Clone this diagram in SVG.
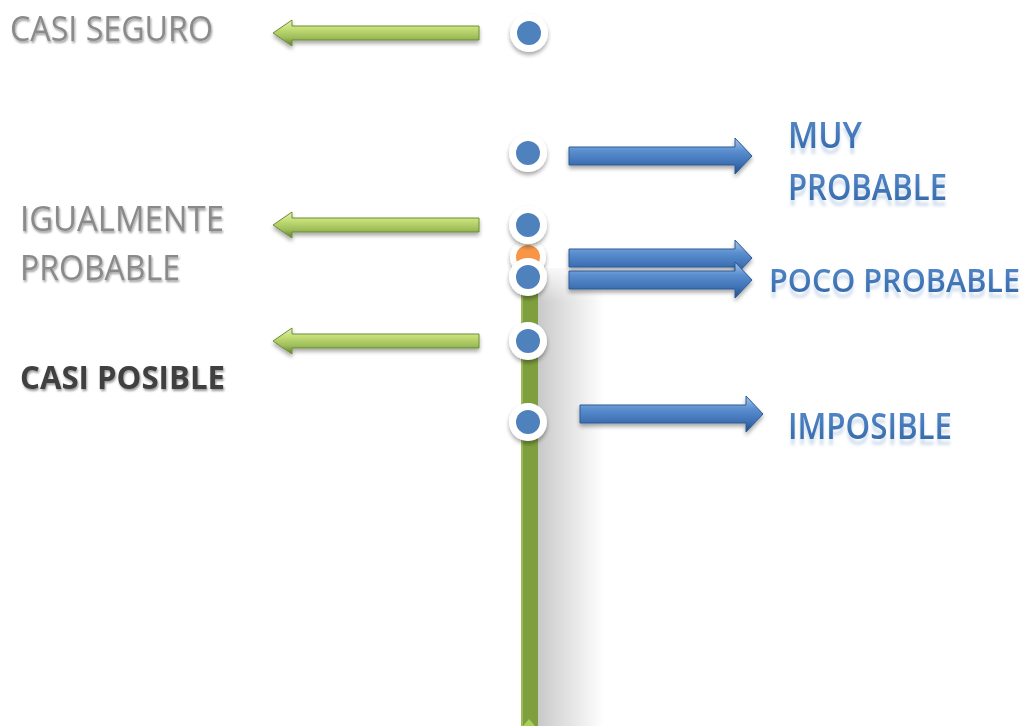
<svg xmlns="http://www.w3.org/2000/svg" width="1030" height="726" viewBox="0 0 1030 726">
<defs>
<linearGradient id="gArrow" x1="0" y1="0" x2="0" y2="1">
<stop offset="0" stop-color="#e2f0b6"/><stop offset="0.35" stop-color="#c2dc73"/><stop offset="0.7" stop-color="#9bbb59"/><stop offset="1" stop-color="#5f7a2c"/>
</linearGradient>
<linearGradient id="bArrow" x1="0" y1="0" x2="0" y2="1">
<stop offset="0" stop-color="#a9c6ea"/><stop offset="0.35" stop-color="#5b8fd0"/><stop offset="0.7" stop-color="#3f72b5"/><stop offset="1" stop-color="#234f86"/>
</linearGradient>
<linearGradient id="barShadow" x1="0" y1="0" x2="1" y2="0">
<stop offset="0" stop-color="#c8c8c8"/><stop offset="0.3" stop-color="#dadada"/><stop offset="1" stop-color="#ffffff"/>
</linearGradient>
<linearGradient id="topFade" x1="0" y1="0" x2="0" y2="1">
<stop offset="0" stop-color="#ffffff" stop-opacity="1"/><stop offset="1" stop-color="#ffffff" stop-opacity="0"/>
</linearGradient>
<linearGradient id="blueText" x1="0" y1="0" x2="0" y2="1">
<stop offset="0" stop-color="#5b8fd0"/><stop offset="1" stop-color="#2f63a3"/>
</linearGradient>
<filter id="ds" x="-50%" y="-50%" width="200%" height="200%">
<feGaussianBlur in="SourceAlpha" stdDeviation="2"/><feOffset dx="0" dy="3"/>
<feComponentTransfer><feFuncA type="linear" slope="0.35"/></feComponentTransfer>
<feMerge><feMergeNode/><feMergeNode in="SourceGraphic"/></feMerge>
</filter>
<filter id="ts" x="-10%" y="-30%" width="120%" height="160%">
<feGaussianBlur in="SourceAlpha" stdDeviation="1.2"/><feOffset dx="1" dy="2"/>
<feComponentTransfer><feFuncA type="linear" slope="0.4"/></feComponentTransfer>
<feMerge><feMergeNode/><feMergeNode in="SourceGraphic"/></feMerge>
</filter>
<filter id="refl" x="-2%" y="-20%" width="104%" height="200%">
<feFlood flood-color="#4f81bd" flood-opacity="0.25"/>
<feComposite in2="SourceAlpha" operator="in" result="c"/>
<feOffset in="c" dx="0" dy="6" result="o"/>
<feGaussianBlur in="o" stdDeviation="1.5"/>
<feMerge><feMergeNode/><feMergeNode in="SourceGraphic"/></feMerge>
</filter>
<g id="dot"><circle r="19" fill="#ffffff"/><circle r="12" fill="#4f81bd"/></g>
<path id="larrow" d="M0,0 L19,-13 L19,-7 L206,-7 L206,7 L19,7 L19,13 Z"/>
<path id="rarrow" d="M0,-9 L166,-9 L166,-18 L183,0 L166,18 L166,9 L0,9 Z"/>
</defs>
<style>
.gray{font-family:"Open Sans","Liberation Sans",sans-serif;font-size:34px;fill:#8a8a8a}
.dark{font-family:"Open Sans","Liberation Sans",sans-serif;font-size:33px;font-weight:bold;fill:#404040}
.blue{font-family:"Open Sans","Liberation Sans",sans-serif;font-size:36px;font-weight:600;fill:url(#blueText)}
.ga{fill:url(#gArrow);stroke:#6f8f35;stroke-width:1}
.ba{fill:url(#bArrow);stroke:#2c5a94;stroke-width:1}
</style>
<rect width="1030" height="726" fill="#ffffff"/>

<g id="timeline">
<rect x="538" y="268" width="66" height="458" fill="url(#barShadow)"/>
<rect x="536" y="262" width="70" height="40" fill="url(#topFade)"/>
<rect x="521" y="285" width="17" height="441" fill="#7f9f3f"/>
<rect x="521" y="285" width="2" height="441" fill="#9bbb59"/>
<path d="M523,726 L529,719 L535,726 Z" fill="#a9cf5a"/>
</g>

<g id="connectors">
<use href="#larrow" x="273" y="33" class="ga" filter="url(#ds)"/>
<use href="#larrow" x="273" y="225" class="ga" filter="url(#ds)"/>
<use href="#larrow" x="273" y="341" class="ga" filter="url(#ds)"/>
<use href="#rarrow" x="569" y="156" class="ba" filter="url(#ds)"/>
<use href="#rarrow" x="569" y="258" class="ba" filter="url(#ds)"/>
<use href="#rarrow" x="569" y="280" class="ba" filter="url(#ds)"/>
<use href="#rarrow" x="580" y="414" class="ba" filter="url(#ds)"/>
</g>

<g id="node-casi-seguro-dot" filter="url(#ds)"><use href="#dot" x="529" y="33"/></g>
<g id="node-muy-dot" filter="url(#ds)"><use href="#dot" x="528" y="153"/></g>
<g id="node-orange-dot" filter="url(#ds)"><circle cx="528" cy="257" r="18" fill="#ffffff"/><circle cx="528" cy="257" r="12" fill="#f79646"/></g>
<g id="node-igual-dot" filter="url(#ds)"><use href="#dot" x="528" y="225"/></g>
<g id="node-poco-dot" filter="url(#ds)"><use href="#dot" x="528" y="277"/></g>
<g id="node-casi-posible-dot" filter="url(#ds)"><use href="#dot" x="528" y="341"/></g>
<g id="node-imposible-dot" filter="url(#ds)"><use href="#dot" x="528" y="422"/></g>

<g id="node-casi-seguro"><text class="gray" x="10" y="41" textLength="203" lengthAdjust="spacingAndGlyphs" filter="url(#ts)">CASI SEGURO</text></g>
<g id="node-igualmente">
<text class="gray" x="20" y="231" textLength="204" lengthAdjust="spacingAndGlyphs" filter="url(#ts)">IGUALMENTE</text>
<text class="gray" x="20" y="280" textLength="160" lengthAdjust="spacingAndGlyphs" filter="url(#ts)">PROBABLE</text>
</g>
<g id="node-casi-posible"><text class="dark" x="20" y="389" textLength="205" lengthAdjust="spacingAndGlyphs" filter="url(#ts)">CASI POSIBLE</text></g>

<g id="node-muy-probable" filter="url(#refl)">
<text class="blue" x="788" y="148" textLength="74" lengthAdjust="spacingAndGlyphs">MUY</text>
<text class="blue" x="788" y="200" textLength="159" lengthAdjust="spacingAndGlyphs">PROBABLE</text>
</g>
<g id="node-poco-probable" filter="url(#refl)">
<text class="blue" x="769" y="292" style="font-size:32px" textLength="251" lengthAdjust="spacingAndGlyphs">POCO PROBABLE</text>
</g>
<g id="node-imposible" filter="url(#refl)">
<text class="blue" x="788" y="439" textLength="164" lengthAdjust="spacingAndGlyphs">IMPOSIBLE</text>
</g>
</svg>
